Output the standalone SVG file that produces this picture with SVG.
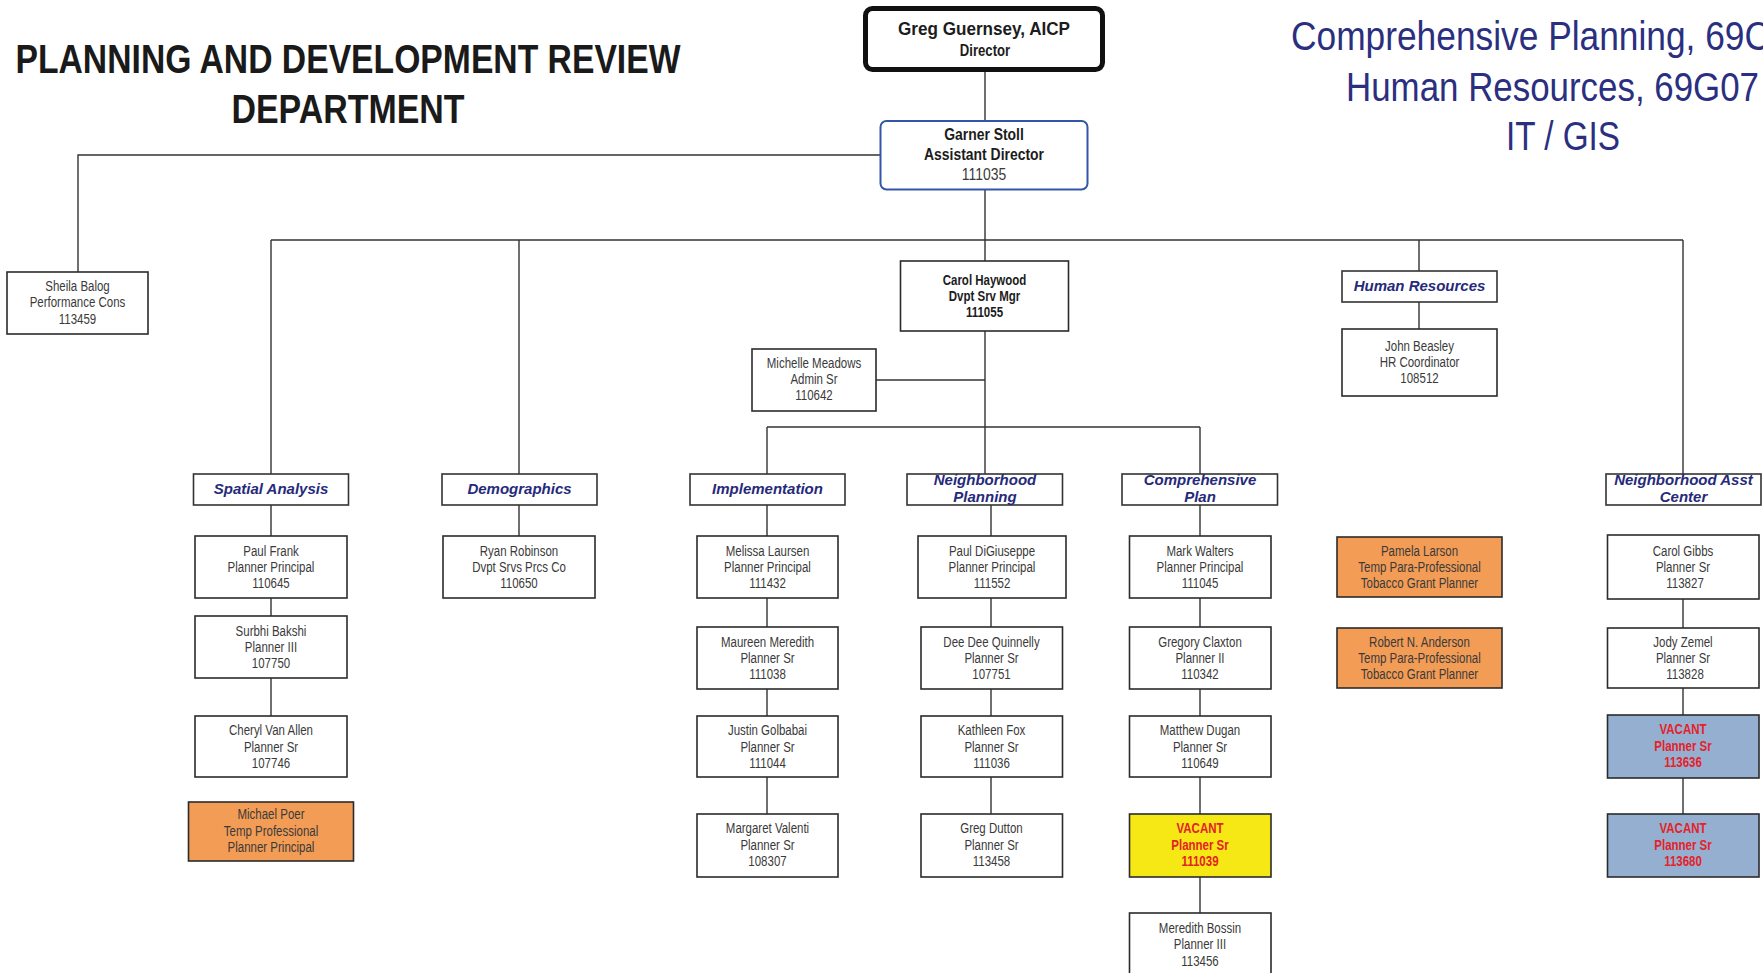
<svg xmlns="http://www.w3.org/2000/svg" width="1763" height="973" viewBox="0 0 1763 973">
<style>
.bx{fill:#fff;stroke:#2b2b2b;stroke-width:1.6}
.hd{fill:#fff;stroke:#333;stroke-width:1.6}
.or{fill:#f29c56;stroke:#2b2b2b;stroke-width:1.6}
.ye{fill:#f5e814;stroke:#2b2b2b;stroke-width:1.6}
.bl{fill:#95afd0;stroke:#2b2b2b;stroke-width:1.6}
.t{font-family:"Liberation Sans",Arial,sans-serif;font-size:14px;fill:#3a3a3a;text-anchor:middle}
.tb{font-family:"Liberation Sans",Arial,sans-serif;font-size:14px;font-weight:bold;fill:#1c1c1c;text-anchor:middle}
.tv{font-family:"Liberation Sans",Arial,sans-serif;font-size:14px;font-weight:bold;fill:#e52129;text-anchor:middle}
.h{font-family:"Liberation Sans",Arial,sans-serif;font-size:15px;font-weight:bold;font-style:italic;fill:#262a7a;text-anchor:middle}
.ln{stroke:#333;stroke-width:1.4;fill:none}
.title{font-family:"Liberation Sans",Arial,sans-serif;font-size:41px;font-weight:bold;fill:#1a1a1a;text-anchor:middle}
.tr{font-family:"Liberation Sans",Arial,sans-serif;font-size:40px;fill:#2b2f7f}
</style>
<rect width="1763" height="973" fill="#fff"/>
<g id="title">
<text class="title" x="348" y="73" textLength="665" lengthAdjust="spacingAndGlyphs">PLANNING AND DEVELOPMENT REVIEW</text>
<text class="title" x="348" y="123" textLength="233" lengthAdjust="spacingAndGlyphs">DEPARTMENT</text>
</g>
<g id="funds">
<text class="tr" x="1291" y="50" textLength="479" lengthAdjust="spacingAndGlyphs">Comprehensive Planning, 69C</text>
<text class="tr" x="1346" y="101" textLength="413" lengthAdjust="spacingAndGlyphs">Human Resources, 69G07</text>
<text class="tr" x="1506" y="150" textLength="114" lengthAdjust="spacingAndGlyphs">IT / GIS</text>
</g>
<g id="connectors" class="ln">
<path d="M985 71 V121 M880 155 H78 V272 M985 189.5 V261 M271 240 H1683 M271 240 V474 M519 240 V474 M1419 240 V271 M1683 240 V474 M985 331 V474 M876 380 H985 M767 427 H1200 M767 427 V474 M1200 427 V474 M1419 302 V329"/>
<path d="M271 505 V536 M271 598 V616 M271 678 V716 M519 505 V536"/>
<path d="M767 505 V536 M767 598 V627 M767 689 V716 M767 777 V814"/>
<path d="M991 505 V536 M991 598 V627 M991 689 V716 M991 777 V814"/>
<path d="M1200 505 V536 M1200 598 V627 M1200 689 V716 M1200 777 V814 M1200 877 V913"/>
<path d="M1683 599 V628 M1683 688 V715 M1683 778 V814"/>
</g>
<g id="director">
<rect x="865.5" y="8.5" width="237" height="61" rx="7" fill="#fff" stroke="#111" stroke-width="5"/>
<text class="tb" x="984" y="35" style="font-size:19px" textLength="172" lengthAdjust="spacingAndGlyphs">Greg Guernsey, AICP</text>
<g transform="translate(985 0) scale(0.82 1)"><text class="tb" x="0" y="56" style="font-size:16px">Director</text></g>
</g>
<g id="asst-director">
<rect x="880.5" y="121" width="207" height="68.5" rx="6" fill="#fff" stroke="#3356a8" stroke-width="2"/>
<g transform="translate(984 0) scale(0.82 1)">
<text class="tb" x="0" y="140" style="font-size:17px">Garner Stoll</text>
<text class="tb" x="0" y="160" style="font-size:17px">Assistant Director</text>
<text class="t" x="0" y="180" style="font-size:17px">111035</text>
</g>
</g>
<g id="sheila">
<rect class="bx" x="7" y="272" width="141" height="62"/>
<g transform="translate(77.5 0) scale(0.82 1)">
<text class="t" x="0" y="291">Sheila Balog</text>
<text class="t" x="0" y="307.5">Performance Cons</text>
<text class="t" x="0" y="324">113459</text>
</g>
</g>
<g id="carol-haywood">
<rect class="bx" x="900.5" y="261" width="168" height="70"/>
<g transform="translate(984.5 0) scale(0.82 1)">
<text class="tb" x="0" y="285">Carol Haywood</text>
<text class="tb" x="0" y="301">Dvpt Srv Mgr</text>
<text class="tb" x="0" y="317">111055</text>
</g>
</g>
<g id="michelle">
<rect class="bx" x="752" y="349" width="124" height="62"/>
<g transform="translate(814 0) scale(0.82 1)">
<text class="t" x="0" y="368">Michelle Meadows</text>
<text class="t" x="0" y="384">Admin Sr</text>
<text class="t" x="0" y="400.5">110642</text>
</g>
</g>
<g id="hr-header">
<rect class="hd" x="1342" y="271" width="155" height="31"/>
<text class="h" x="1419.5" y="291">Human Resources</text>
</g>
<g id="john">
<rect class="bx" x="1342" y="329" width="155" height="67"/>
<g transform="translate(1419.5 0) scale(0.82 1)">
<text class="t" x="0" y="351">John Beasley</text>
<text class="t" x="0" y="367">HR Coordinator</text>
<text class="t" x="0" y="383">108512</text>
</g>
</g>
<g id="hdr-spatial">
<rect class="hd" x="193.5" y="474" width="155" height="31"/>
<text class="h" x="271" y="494">Spatial Analysis</text>
</g>
<g id="hdr-demographics">
<rect class="hd" x="442" y="474" width="155" height="31"/>
<text class="h" x="519.5" y="494">Demographics</text>
</g>
<g id="hdr-implementation">
<rect class="hd" x="690" y="474" width="155" height="31"/>
<text class="h" x="767.5" y="494">Implementation</text>
</g>
<g id="hdr-neighborhood">
<rect class="hd" x="907" y="474" width="155.5" height="31"/>
<text class="h" x="985" y="485">Neighborhood</text>
<text class="h" x="985" y="502">Planning</text>
</g>
<g id="hdr-comprehensive">
<rect class="hd" x="1122" y="474" width="155.5" height="31"/>
<text class="h" x="1200" y="485">Comprehensive</text>
<text class="h" x="1200" y="502">Plan</text>
</g>
<g id="hdr-nac">
<rect class="hd" x="1606" y="474" width="155" height="31"/>
<text class="h" x="1683.5" y="485">Neighborhood Asst</text>
<text class="h" x="1683.5" y="502">Center</text>
</g>
<g id="paul-frank">
<rect class="bx" x="195" y="536" width="152" height="62"/>
<g transform="translate(271 0) scale(0.82 1)">
<text class="t" x="0" y="556">Paul Frank</text>
<text class="t" x="0" y="572">Planner Principal</text>
<text class="t" x="0" y="588">110645</text>
</g>
</g>
<g id="surbhi">
<rect class="bx" x="195" y="616" width="152" height="62"/>
<g transform="translate(271 0) scale(0.82 1)">
<text class="t" x="0" y="636">Surbhi Bakshi</text>
<text class="t" x="0" y="652">Planner III</text>
<text class="t" x="0" y="668">107750</text>
</g>
</g>
<g id="cheryl">
<rect class="bx" x="195" y="716" width="152" height="61"/>
<g transform="translate(271 0) scale(0.82 1)">
<text class="t" x="0" y="735">Cheryl Van Allen</text>
<text class="t" x="0" y="752">Planner Sr</text>
<text class="t" x="0" y="768">107746</text>
</g>
</g>
<g id="michael">
<rect class="or" x="188.5" y="802" width="165" height="59"/>
<g transform="translate(271 0) scale(0.82 1)">
<text class="t" x="0" y="819.5">Michael Poer</text>
<text class="t" x="0" y="836">Temp Professional</text>
<text class="t" x="0" y="852">Planner Principal</text>
</g>
</g>
<g id="ryan">
<rect class="bx" x="443" y="536" width="152" height="62"/>
<g transform="translate(519 0) scale(0.82 1)">
<text class="t" x="0" y="556">Ryan Robinson</text>
<text class="t" x="0" y="572">Dvpt Srvs Prcs Co</text>
<text class="t" x="0" y="588">110650</text>
</g>
</g>
<g id="melissa">
<rect class="bx" x="697" y="536" width="141" height="62"/>
<g transform="translate(767.5 0) scale(0.82 1)">
<text class="t" x="0" y="556">Melissa Laursen</text>
<text class="t" x="0" y="572">Planner Principal</text>
<text class="t" x="0" y="588">111432</text>
</g>
</g>
<g id="maureen">
<rect class="bx" x="697" y="627" width="141" height="62"/>
<g transform="translate(767.5 0) scale(0.82 1)">
<text class="t" x="0" y="647">Maureen Meredith</text>
<text class="t" x="0" y="663">Planner Sr</text>
<text class="t" x="0" y="679">111038</text>
</g>
</g>
<g id="justin">
<rect class="bx" x="697" y="716" width="141" height="61"/>
<g transform="translate(767.5 0) scale(0.82 1)">
<text class="t" x="0" y="735">Justin Golbabai</text>
<text class="t" x="0" y="752">Planner Sr</text>
<text class="t" x="0" y="768">111044</text>
</g>
</g>
<g id="margaret">
<rect class="bx" x="697" y="814" width="141" height="63"/>
<g transform="translate(767.5 0) scale(0.82 1)">
<text class="t" x="0" y="833.5">Margaret Valenti</text>
<text class="t" x="0" y="850">Planner Sr</text>
<text class="t" x="0" y="866">108307</text>
</g>
</g>
<g id="paul-digiuseppe">
<rect class="bx" x="918" y="536" width="148" height="62"/>
<g transform="translate(992 0) scale(0.82 1)">
<text class="t" x="0" y="556">Paul DiGiuseppe</text>
<text class="t" x="0" y="572">Planner Principal</text>
<text class="t" x="0" y="588">111552</text>
</g>
</g>
<g id="deedee">
<rect class="bx" x="921" y="627" width="141.5" height="62"/>
<g transform="translate(991.5 0) scale(0.82 1)">
<text class="t" x="0" y="647">Dee Dee Quinnelly</text>
<text class="t" x="0" y="663">Planner Sr</text>
<text class="t" x="0" y="679">107751</text>
</g>
</g>
<g id="kathleen">
<rect class="bx" x="921" y="716" width="141.5" height="61"/>
<g transform="translate(991.5 0) scale(0.82 1)">
<text class="t" x="0" y="735">Kathleen Fox</text>
<text class="t" x="0" y="752">Planner Sr</text>
<text class="t" x="0" y="768">111036</text>
</g>
</g>
<g id="greg-dutton">
<rect class="bx" x="921" y="814" width="141.5" height="63"/>
<g transform="translate(991.5 0) scale(0.82 1)">
<text class="t" x="0" y="833.5">Greg Dutton</text>
<text class="t" x="0" y="850">Planner Sr</text>
<text class="t" x="0" y="866">113458</text>
</g>
</g>
<g id="mark">
<rect class="bx" x="1129.5" y="536" width="141.5" height="62"/>
<g transform="translate(1200 0) scale(0.82 1)">
<text class="t" x="0" y="556">Mark Walters</text>
<text class="t" x="0" y="572">Planner Principal</text>
<text class="t" x="0" y="588">111045</text>
</g>
</g>
<g id="gregory">
<rect class="bx" x="1129.5" y="627" width="141.5" height="62"/>
<g transform="translate(1200 0) scale(0.82 1)">
<text class="t" x="0" y="647">Gregory Claxton</text>
<text class="t" x="0" y="663">Planner II</text>
<text class="t" x="0" y="679">110342</text>
</g>
</g>
<g id="matthew">
<rect class="bx" x="1129.5" y="716" width="141.5" height="61"/>
<g transform="translate(1200 0) scale(0.82 1)">
<text class="t" x="0" y="735">Matthew Dugan</text>
<text class="t" x="0" y="752">Planner Sr</text>
<text class="t" x="0" y="768">110649</text>
</g>
</g>
<g id="vacant-111039">
<rect class="ye" x="1129.5" y="814" width="141.5" height="63"/>
<g transform="translate(1200 0) scale(0.82 1)">
<text class="tv" x="0" y="833.5">VACANT</text>
<text class="tv" x="0" y="850">Planner Sr</text>
<text class="tv" x="0" y="866">111039</text>
</g>
</g>
<g id="meredith">
<rect class="bx" x="1129.5" y="913" width="141.5" height="64"/>
<g transform="translate(1200 0) scale(0.82 1)">
<text class="t" x="0" y="933">Meredith Bossin</text>
<text class="t" x="0" y="949.5">Planner III</text>
<text class="t" x="0" y="966">113456</text>
</g>
</g>
<g id="pamela">
<rect class="or" x="1337" y="537" width="165" height="60"/>
<g transform="translate(1419.5 0) scale(0.82 1)">
<text class="t" x="0" y="556">Pamela Larson</text>
<text class="t" x="0" y="572">Temp Para-Professional</text>
<text class="t" x="0" y="588">Tobacco Grant Planner</text>
</g>
</g>
<g id="robert">
<rect class="or" x="1337" y="628" width="165" height="60"/>
<g transform="translate(1419.5 0) scale(0.82 1)">
<text class="t" x="0" y="647">Robert N. Anderson</text>
<text class="t" x="0" y="663">Temp Para-Professional</text>
<text class="t" x="0" y="679">Tobacco Grant Planner</text>
</g>
</g>
<g id="carol-gibbs">
<rect class="bx" x="1607.5" y="535" width="151.5" height="64"/>
<g transform="translate(1683 0) scale(0.82 1)">
<text class="t" x="0" y="556">Carol Gibbs</text>
<text class="t" x="0" y="572">Planner Sr</text>
<text class="t" x="2.5" y="588">113827</text>
</g>
</g>
<g id="jody">
<rect class="bx" x="1607.5" y="628" width="151.5" height="60"/>
<g transform="translate(1683 0) scale(0.82 1)">
<text class="t" x="0" y="647">Jody Zemel</text>
<text class="t" x="0" y="663">Planner Sr</text>
<text class="t" x="2.5" y="679">113828</text>
</g>
</g>
<g id="vacant-113636">
<rect class="bl" x="1607.5" y="715" width="151.5" height="63"/>
<g transform="translate(1683 0) scale(0.82 1)">
<text class="tv" x="0" y="734">VACANT</text>
<text class="tv" x="0" y="751">Planner Sr</text>
<text class="tv" x="0" y="767">113636</text>
</g>
</g>
<g id="vacant-113680">
<rect class="bl" x="1607.5" y="814" width="151.5" height="63"/>
<g transform="translate(1683 0) scale(0.82 1)">
<text class="tv" x="0" y="833.5">VACANT</text>
<text class="tv" x="0" y="850">Planner Sr</text>
<text class="tv" x="0" y="866">113680</text>
</g>
</g>
</svg>
